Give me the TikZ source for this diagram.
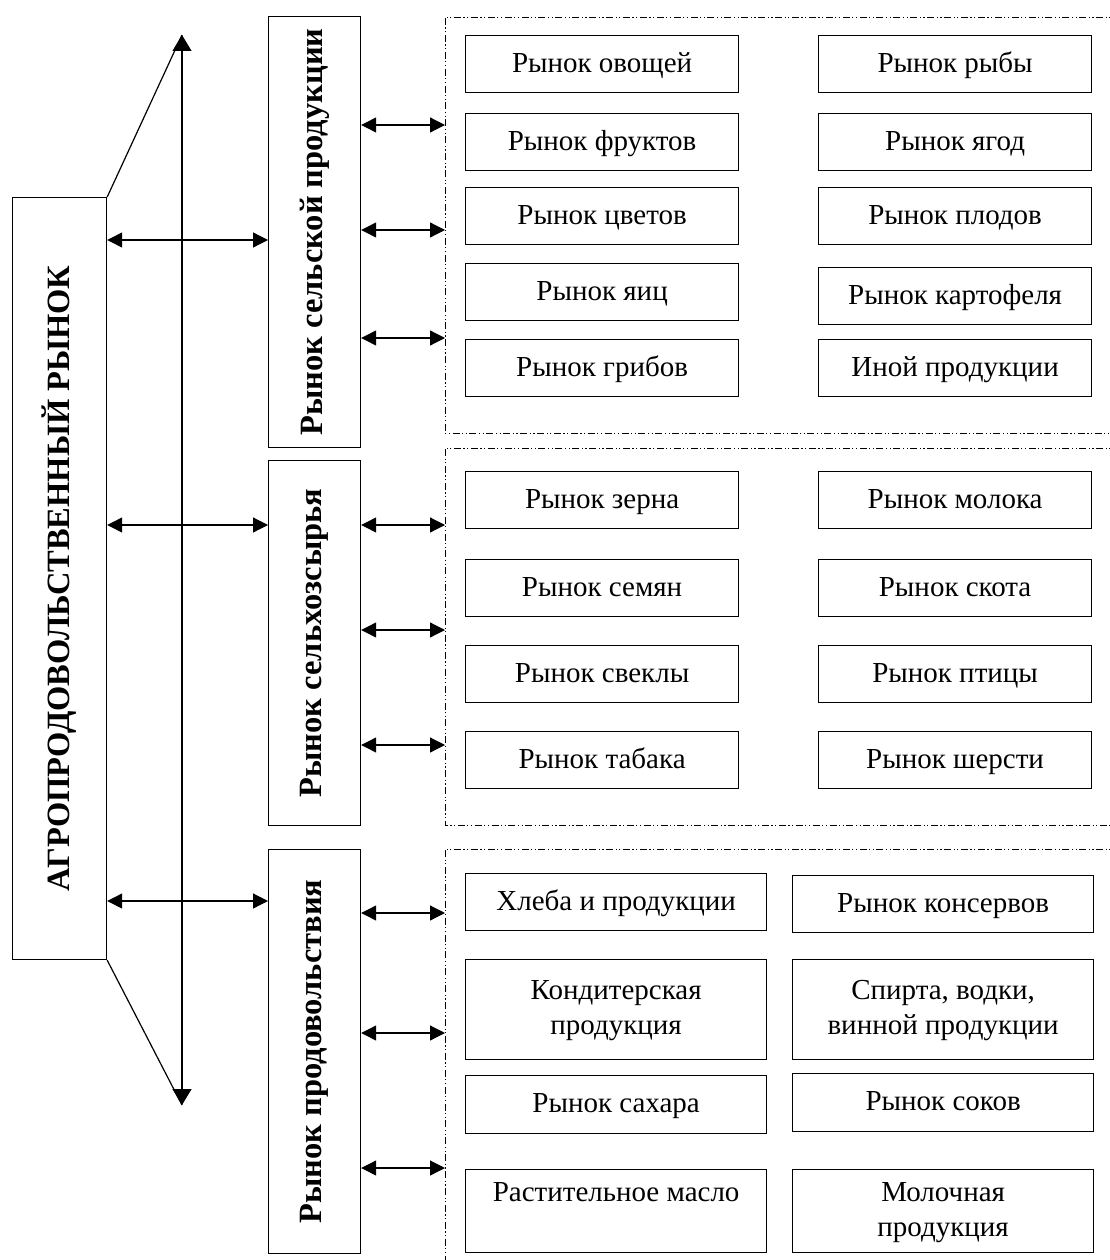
\documentclass[tikz,border=0pt]{standalone}
\usepackage{fontspec}
\setmainfont{Liberation Serif}
\usetikzlibrary{arrows.meta}
\newcommand{\topline}{\rule{0pt}{22pt}}
\newcommand{\botline}{\rule[-6pt]{0pt}{6pt}}
\begin{document}
\begin{tikzpicture}[x=1pt,y=-1pt,
  line width=1.2pt,
  every node/.style={font=\fontsize{29}{35}\selectfont},
  box/.style={draw, inner sep=0pt, anchor=north west, align=center},
  onebox/.style={box, text height=20pt, text depth=4pt},
  catbox/.style={draw, inner sep=0pt, anchor=north west},
  cattext/.style={rotate=90, font=\fontsize{32.5}{36}\selectfont\bfseries},
  link/.style={{Triangle[length=15pt,width=15pt]}-{Triangle[length=15pt,width=15pt]}},
  axis/.style={{Triangle[length=16pt,width=19pt]}-{Triangle[length=16pt,width=19pt]}},
  frame/.style={line width=0.9pt, dash pattern=on 7pt off 2.5pt on 1.2pt off 2.5pt on 1.2pt off 2.5pt}
]
\useasboundingbox (0,0) rectangle (1110,1260);
\clip (0,0) rectangle (1110,1260);

% main block
\node[catbox, minimum width=94pt, minimum height=762pt] (agro) at (12,197) {};
\node[cattext] (agrotext) at (agro.center) {АГРОПРОДОВОЛЬСТВЕННЫЙ РЫНОК};

% three sub-markets
\node[catbox, minimum width=92pt, minimum height=431pt] (c1) at (268,16) {};
\node[cattext] (c1text) at (c1.center) {Рынок сельской продукции};
\node[catbox, minimum width=92pt, minimum height=365pt] (c2) at (268,460) {};
\node[cattext] (c2text) at (c2.center) {Рынок сельхозсырья};
\node[catbox, minimum width=92pt, minimum height=404pt] (c3) at (268,849) {};
\node[cattext] (c3text) at (c3.center) {Рынок продовольствия};

% vertical axis with the two slanted sides
\coordinate (tt) at (182,35);
\coordinate (bt) at (182,1105);
\draw[axis] (bt) -- (tt);
\draw (agro.north east) -- (tt);
\draw (agro.south east) -- (bt);

% links from the main block
\draw[link] (agro.east |- 0,240) -- (c1.west |- 0,240);
\draw[link] (agro.east |- 0,525) -- (c2.west |- 0,525);
\draw[link] (agro.east |- 0,901) -- (c3.west |- 0,901);

% dash-dot groups
\coordinate (f1) at (445,17);
\coordinate (f2) at (445,448);
\coordinate (f3) at (445,849);
\draw[frame] (1120,17) -- (f1) -- (445,433) -- (1120,433);
\draw[frame] (1120,448) -- (f2) -- (445,825) -- (1120,825);
\draw[frame] (1120,849) -- (f3) -- (445,1270);

% links from sub-markets to groups
\foreach \y in {125,230,338} \draw[link] (c1.east |- 0,\y) -- (f1 |- 0,\y);
\foreach \y in {525,630,745} \draw[link] (c2.east |- 0,\y) -- (f2 |- 0,\y);
\foreach \y in {913,1033,1168} \draw[link] (c3.east |- 0,\y) -- (f3 |- 0,\y);

% groups 1 and 2
\begin{scope}[every node/.append style={onebox, minimum width=273pt, minimum height=57pt}]
\node (a1) at (465,35)  {Рынок овощей};
\node (a2) at (465,113) {Рынок фруктов};
\node (a3) at (465,187) {Рынок цветов};
\node (a4) at (465,263) {Рынок яиц};
\node (a5) at (465,339) {Рынок грибов};
\node (b1) at (818,35)  {Рынок рыбы};
\node (b2) at (818,113) {Рынок ягод};
\node (b3) at (818,187) {Рынок плодов};
\node (b4) at (818,267) {Рынок картофеля};
\node (b5) at (818,339) {Иной продукции};
\node (a6) at (465,471) {Рынок зерна};
\node (a7) at (465,559) {Рынок семян};
\node (a8) at (465,645) {Рынок свеклы};
\node (a9) at (465,731) {Рынок табака};
\node (b6) at (818,471) {Рынок молока};
\node (b7) at (818,559) {Рынок скота};
\node (b8) at (818,645) {Рынок птицы};
\node (b9) at (818,731) {Рынок шерсти};
\end{scope}

% group 3
\begin{scope}[every node/.append style={minimum width=301pt}]
\node[onebox, minimum height=57pt] (p1) at (465,873) {Хлеба и продукции};
\node[box, minimum height=100pt] (p2) at (465,959) {\topline Кондитерская\\продукция\botline};
\node[onebox, minimum height=58pt] (p3) at (465,1075) {Рынок сахара};
\node[box, minimum height=83pt] (p4) at (465,1169) {\topline Растительное масло\\\botline};
\node[onebox, minimum height=57pt] (q1) at (792,875) {Рынок консервов};
\node[box, minimum height=100pt] (q2) at (792,959) {\topline Спирта, водки,\\винной продукции\botline};
\node[onebox, minimum height=58pt] (q3) at (792,1073) {Рынок соков};
\node[box, minimum height=83pt] (q4) at (792,1169) {\topline Молочная\\продукция\botline};
\end{scope}
\end{tikzpicture}
\end{document}
